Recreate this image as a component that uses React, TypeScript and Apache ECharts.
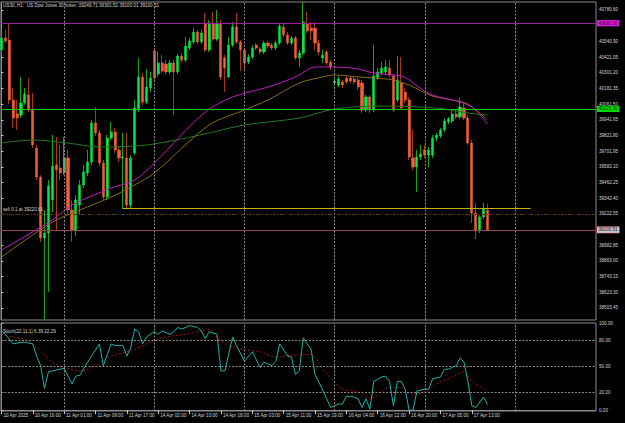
import React, { useEffect, useRef } from "react";
import * as echarts from "echarts";

// ---- candle data (H1 bars, index 0 = 10 Apr 08:00) ----
const opens = [40475,40567,40551,40093,39986,39978,40070,40131,40016,39726,39504,39038,39076,39329,39596,39573,39535,39650,39252,39099,39290,39443,39535,39619,39917,39841,39611,39352,39802,39848,39711,39650,39650,39290,39688,40016,40269,40077,40185,40467,40291,40376,40368,40307,40376,40307,40429,40398,40490,40536,40612,40536,40681,40475,40681,40559,40681,40414,40269,40513,40651,40536,40475,40383,40421,40513,40483,40460,40528,40513,40490,40528,40651,40590,40528,40567,40414,40452,40674,40643,40643,40528,40414,40460,40383,40223,40207,40230,40261,40261,40253,40246,40223,40016,40116,40016,40261,40299,40307,40337,40276,40093,40223,40154,40093,39650,39581,39657,39711,39672,39672,39802,39818,39864,39925,39932,39986,39963,40032,39955,39764,39229,39099,39199,39249.71];
const closes = [40567,40544,40093,39955,39955,40070,40139,40016,39749,39504,39038,39076,39436,39588,39558,39535,39650,39252,39099,39329,39443,39543,39619,39917,39841,39611,39352,39802,39848,39711,39650,39657,39290,39650,40032,40269,40077,40192,40261,40261,40376,40314,40307,40376,40307,40429,40398,40505,40544,40612,40536,40605,40475,40681,40559,40681,40269,40337,40513,40651,40536,40475,40376,40421,40490,40490,40460,40528,40505,40490,40528,40658,40590,40528,40567,40414,40452,40689,40620,40620,40528,40460,40437,40376,40345,40238,40253,40207,40230,40238,40230,40192,40016,40116,40016,40276,40307,40337,40345,40284,40016,40246,40032,40093,39657,39581,39657,39680,39672,39711,39802,39825,39864,39932,39948,39986,39963,40039,39955,39764,39229,39099,39199,39267,39100.51];
const lows = [40460,40528,40062,39879,39864,39955,40055,40001,39726,39481,39008,38412,38626,39237,39099,39481,39520,39214,39008,39053,39222,39420,39512,39596,39818,39588,39329,39329,39787,39688,39619,39260,39260,39260,39672,40001,40055,40062,40154,40246,40269,40299,40284,40291,39978,40291,40383,40383,40475,40521,40521,40521,40460,40460,40544,40544,40246,40154,40261,40498,40521,40314,40322,40368,40406,40475,40444,40444,40490,40475,40475,40513,40574,40513,40513,40398,40345,40437,40605,40551,40475,40437,40376,40360,40322,40200,40192,40185,40215,40223,40215,40169,39993,40001,39993,40001,40246,40284,40291,40269,40001,40077,40016,40070,39634,39558,39390,39634,39650,39581,39650,39779,39802,39848,39909,39917,39948,39948,39940,39749,39153,39031,39076,39183,39100.01];
const highs = [40590,40628,40681,40185,40093,40269,40185,40261,40146,39749,39520,39252,39481,39825,39810,39749,39810,39711,39329,39367,39481,39596,39711,39940,40039,39864,39634,39825,39925,39879,39734,39841,39841,39672,40093,40414,40299,40330,40307,40490,40460,40437,40398,40398,40398,40444,40452,40574,40567,40643,40628,40628,40758,40704,40765,40781,40704,40437,40574,40689,40758,40551,40490,40444,40513,40528,40498,40544,40544,40528,40544,40681,40674,40612,40582,40582,40475,40842,40765,40689,40689,40551,40475,40475,40398,40261,40276,40246,40276,40276,40269,40261,40246,40131,40131,40513,40337,40383,40398,40398,40291,40429,40421,40185,40116,39864,39711,39749,39749,39734,39825,39841,39879,39955,39963,40016,40016,40108,40062,39978,39787,39306,39214,39306,39301.51];

// ---- moving averages, read at [bar index, price] ----
const maMagenta = [[0,38946],[13,39176],[18,39290],[28,39420],[34,39481],[39,39611],[52,40001],[59,40116],[68,40192],[75,40269],[80,40345],[85,40345],[91,40330],[95,40299],[102,40276],[104,40246],[106,40200],[110,40131],[115,40093],[117,40077],[119,40055],[121,40016],[124,39909]];
const maOlive = [[0,38893],[13,39160],[20,39252],[28,39351],[34,39443],[39,39535],[53,39902],[62,40016],[68,40093],[76,40223],[82,40269],[85,40284],[91,40269],[95,40261],[100,40246],[104,40207],[110,40123],[115,40093],[119,40062],[124,39940]];
const maGreen = [[0,39764],[8,39787],[17,39764],[25,39734],[34,39741],[39,39757],[46,39795],[53,39841],[62,39902],[76,39955],[85,40024],[97,40047],[107,40039],[113,40024],[119,39993],[124,39978]];

// ---- stochastic (22,11,1) ----
const stochMain = [[0,91],[1,87],[3,76],[5,78],[6,78],[8,76],[9,62],[10,51],[11,25],[12,44],[13,45],[15,47],[16,48],[18,30],[19,39],[20,40],[22,55],[25,76],[26,51],[28,76],[29,74],[31,74],[32,62],[33,72],[34,93],[35,90],[36,76],[37,84],[39,90],[40,87],[41,91],[43,87],[44,90],[45,95],[46,93],[48,97],[50,95],[51,91],[52,82],[53,90],[55,87],[56,45],[57,45],[59,84],[60,74],[62,56],[64,67],[66,49],[67,55],[69,51],[70,56],[71,76],[73,62],[74,61],[75,41],[76,45],[77,83],[78,76],[79,70],[80,41],[81,32],[83,13],[84,3],[85,5],[86,7],[87,7],[88,16],[90,15],[91,13],[92,3],[93,13],[94,1],[95,33],[97,38],[98,39],[99,33],[100,5],[101,33],[102,33],[103,24],[104,0],[105,0],[106,22],[108,24],[109,24],[110,36],[112,38],[113,47],[114,47],[115,49],[116,51],[117,60],[118,55],[119,33],[120,5],[121,3],[123,15],[124,6.39]];
const stochSignal = [[0,87],[2,85],[7,79],[13,55],[16,49],[20,45],[24,51],[28,62],[33,68],[38,78],[42,84],[47,87],[51,91],[53,93],[56,79],[61,70],[66,67],[70,61],[74,63],[79,64],[82,47],[85,32],[87,24],[91,21],[94,13],[97,21],[99,26],[102,26],[105,18],[108,21],[111,30],[115,38],[118,44],[120,33],[124,22.29]];

// ---- axes ----
const timeIdx = [0,8,16,24,32,40,48,56,64,72,80,88,96,104,112,120];
const timeLabels = ["10 Apr 2025","10 Apr 16:00","11 Apr 01:00","11 Apr 09:00","11 Apr 17:00","14 Apr 02:00","14 Apr 10:00","14 Apr 18:00","15 Apr 03:00","15 Apr 11:00","15 Apr 19:00","16 Apr 04:00","16 Apr 12:00","16 Apr 20:00","17 Apr 05:00","17 Apr 13:00"];
const priceTicks = [40780.60,40540.90,40421.05,40301.20,40181.35,40061.50,39941.65,39821.80,39701.95,39582.10,39462.25,39342.40,39222.55,38982.85,38863.00,38743.15,38623.30,38503.45];
const stochTicks = [0,20,50,80,100];
const stochLevels = [20,50,80];
const dayStarts = [16,39,62,85,108,131];

// ---- levels ----
const levelMagenta = 40680.0;
const levelGreen = 40025.3;
const bidPrice = 39100.51;
const orderPrice = 39220.81;
const trendPrice = 39262;
const trendFrom = 31;
const trendTo = 135;

const headerText = "US30, H1:  US Dow Jones 30 Index  39249.71 39301.51 39100.01 39100.51";
const stochText = "Stoch(22,11,1) 6.39 22.29";
const orderText = "sell 0.1 at 39220.81";

const FONT = "Liberation Sans";
const FS = 4.6;
const TXT = "#d4d4d4";
const FRAME = "#8c8c8c";
const GRIDC = "#8a8a8a";

export default function App() {
  const ref = useRef<HTMLDivElement>(null);
  useEffect(() => {
    document.body.style.margin = "0";
    document.body.style.background = "#000";
    const chart = echarts.init(ref.current!, null, { renderer: "svg" });
    const full = opens.map((o, i) => [i, o, closes[i], lows[i], highs[i]]);
    const body = opens.map((o, i) => [i, o, closes[i], Math.min(o, closes[i]), Math.max(o, closes[i])]);
    const dotted = { color: GRIDC, type: [2, 1.5], width: 1 };
    const vLines = dayStarts.map((x) => ({ xAxis: x, lineStyle: dotted, label: { show: false } }));
    const tag = (v: number, bg: string, fg: string, border?: string) => ({
      show: true, position: "end", distance: 1, formatter: v.toFixed(2), backgroundColor: bg, color: fg,
      borderColor: border || bg, borderWidth: border ? 0.6 : 0, padding: [0.8, 1.5, 0.4, 1.5], fontSize: FS, fontFamily: FONT,
    });
    const option: any = {
      animation: false,
      backgroundColor: "#000",
      grid: [
        { left: 1, top: 2, width: 595, height: 318, show: true, borderColor: FRAME, borderWidth: 1, backgroundColor: "#000" },
        { left: 1, top: 323, width: 595, height: 88, show: true, borderColor: FRAME, borderWidth: 1, backgroundColor: "#000" },
      ],
      xAxis: [
        { type: "value", gridIndex: 0, min: -0.1, max: 151.68, show: false },
        {
          type: "value", gridIndex: 1, min: -0.1, max: 151.68,
          axisLine: { show: true, lineStyle: { color: FRAME } },
          axisTick: { show: true, customValues: timeIdx, length: 4, lineStyle: { color: "#c8c8c8" } },
          axisLabel: { customValues: timeIdx, formatter: (v: number) => timeLabels[timeIdx.indexOf(v)] || "", align: "left", margin: 2, padding: [0, 0, 0, 2], color: TXT, fontSize: FS, fontFamily: FONT },
          splitLine: { show: false },
        },
      ],
      yAxis: [
        {
          type: "value", gridIndex: 0, position: "right", min: 38411.6, max: 40841.7,
          axisLine: { show: true, lineStyle: { color: FRAME } },
          axisTick: { show: true, customValues: priceTicks, length: 2, lineStyle: { color: "#c8c8c8" } },
          axisLabel: { customValues: priceTicks, formatter: (v: number) => v.toFixed(2), margin: 3, color: TXT, fontSize: FS, fontFamily: FONT },
          splitLine: { show: false },
        },
        {
          type: "value", gridIndex: 1, position: "right", min: -1, max: 100,
          axisLine: { show: true, lineStyle: { color: FRAME } },
          axisTick: { show: true, customValues: stochTicks, length: 2, lineStyle: { color: "#c8c8c8" } },
          axisLabel: { customValues: stochTicks, formatter: (v: number) => v.toFixed(2), margin: 3, color: TXT, fontSize: FS, fontFamily: FONT },
          splitLine: { show: false },
        },
      ],
      graphic: [
        { type: "text", left: 3, top: 2.5, style: { text: headerText, fill: TXT, fontSize: FS, fontFamily: FONT } },
        { type: "text", left: 3, top: 329, style: { text: stochText, fill: TXT, fontSize: FS, fontFamily: FONT } },
      ],
      series: [
        {
          type: "candlestick", name: "wicks", xAxisIndex: 0, yAxisIndex: 0, data: full, encode: { x: 0, y: [1, 2, 3, 4] },
          barWidth: 0.1,
          itemStyle: { color: "#1aa51a", color0: "#a33a1c", borderColor: "#1aa51a", borderColor0: "#a33a1c", borderWidth: 1 },
          markLine: {
            silent: true, symbol: ["none", "none"], animation: false,
            data: [
              ...vLines,
              { yAxis: levelMagenta, lineStyle: { color: "#a21aa2", type: "solid", width: 1 }, label: tag(levelMagenta, "#e31ee3", "#200020") },
              { yAxis: levelGreen, lineStyle: { color: "#00c800", type: "solid", width: 1 }, label: tag(levelGreen, "#00e600", "#002000") },
              { yAxis: orderPrice, lineStyle: { color: "#1f5a1f", type: [1, 2], width: 1 }, label: { show: false } },
              { yAxis: orderPrice, lineStyle: { color: "#a01818", type: [3, 5], width: 1 }, label: { show: true, position: "insideStartTop", distance: 2, formatter: orderText, color: TXT, fontSize: FS, fontFamily: FONT } },
              { yAxis: bidPrice, lineStyle: { color: "#9a4646", type: "solid", width: 1 }, label: tag(bidPrice, "#c4c4cc", "#101010", "#b03030") },
              [
                { coord: [trendFrom, trendPrice], lineStyle: { color: "#c2ae16", type: "solid", width: 1 }, label: { show: false } },
                { coord: [trendTo, trendPrice] },
              ],
            ],
          },
          z: 2,
        },
        {
          type: "candlestick", name: "bodies", xAxisIndex: 0, yAxisIndex: 0, data: body, encode: { x: 0, y: [1, 2, 3, 4] },
          barWidth: 2.6,
          itemStyle: { color: "#00e84a", color0: "#f55f36", borderColor: "#00e84a", borderColor0: "#f55f36", borderWidth: 0.5 },
          z: 3,
        },
        { type: "line", xAxisIndex: 0, yAxisIndex: 0, data: maGreen, smooth: 0.3, symbol: "none", lineStyle: { color: "#247824", width: 1 }, z: 4 },
        { type: "line", xAxisIndex: 0, yAxisIndex: 0, data: maOlive, smooth: 0.3, symbol: "none", lineStyle: { color: "#8a6a1a", width: 1 }, z: 4 },
        { type: "line", xAxisIndex: 0, yAxisIndex: 0, data: maMagenta, smooth: 0.3, symbol: "none", lineStyle: { color: "#c01cc0", width: 1 }, z: 4 },
        {
          type: "line", xAxisIndex: 1, yAxisIndex: 1, data: stochSignal, smooth: 0.3, symbol: "none",
          lineStyle: { color: "#a81010", width: 1, type: [2, 2] }, z: 3,
          markLine: {
            silent: true, symbol: ["none", "none"], animation: false,
            data: [
              ...dayStarts.map((x) => ({ xAxis: x, lineStyle: dotted, label: { show: false } })),
              ...stochLevels.map((y) => ({ yAxis: y, lineStyle: dotted, label: { show: false } })),
            ],
          },
        },
        { type: "line", xAxisIndex: 1, yAxisIndex: 1, data: stochMain, symbol: "none", lineStyle: { color: "#22b0a8", width: 1 }, z: 4 },
      ],
    };
    chart.setOption(option);
    return () => chart.dispose();
  }, []);
  return <div ref={ref} style={{ position: "absolute", left: 0, top: 0, width: 625, height: 423, background: "#000" }} />;
}
